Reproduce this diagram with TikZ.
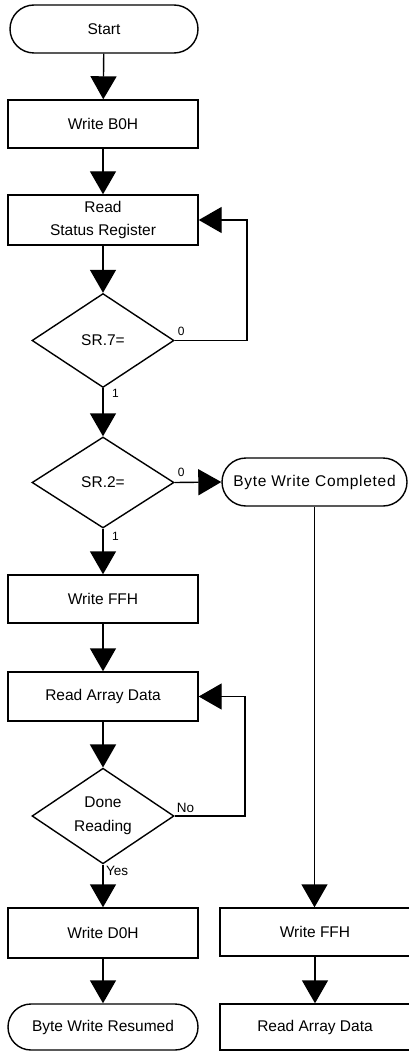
\documentclass[tikz,border=0pt]{standalone}
\usepackage{fontspec}
\setmainfont{Liberation Sans}
\usetikzlibrary{shapes.geometric,arrows.meta}
\begin{document}
\begin{tikzpicture}[x=1pt,y=-1pt,
  every node/.style={font=\fontsize{15.5}{23}\selectfont},
  proc/.style={draw, line width=1.4pt, minimum width=190pt, minimum height=48pt, inner sep=0pt, align=center},
  term/.style={draw, line width=1.4pt, rounded corners=24pt, minimum width=188pt, minimum height=48pt, inner sep=0pt},
  dec/.style={draw, diamond, line width=1.4pt, minimum width=142pt, minimum height=94pt, inner sep=0pt, align=center},
  flow/.style={line width=1.4pt, -{Triangle[length=23pt,width=26pt]}},
  lab/.style={font=\fontsize{12}{14}\selectfont, inner sep=0pt},
  yn/.style={font=\fontsize{13.5}{15}\selectfont, inner sep=0pt}
  ]
\useasboundingbox (0,0) rectangle (408,1051);
% left column
\node[term] (start) at (104,29) {Start};
\node[proc] (wb0) at (103,124) {Write B0H};
\node[proc, minimum height=50pt] (rsr) at (103,220) {Read\\Status Register};
\node[dec] (sr7) at (103,340.5) {SR.7=};
\node[dec, minimum height=91pt] (sr2) at (103,482.5) {SR.2=};
\node[proc] (wff) at (103,599) {Write FFH};
\node[proc, minimum height=49pt] (rad) at (103,696.5) {Read Array Data};
\node[dec, minimum height=93pt, font=\fontsize{15.5}{24}\selectfont] (done) at (103,816) {Done\\Reading};
\node[proc, minimum height=50pt] (wd0) at (103,933) {Write D0H};
\node[term, minimum width=190pt, minimum height=46pt, rounded corners=23pt] (bwr) at (103,1027) {Byte Write Resumed};
% right column
\node[term, minimum width=185pt, font=\fontsize{15.5}{23}\selectfont\addfontfeature{LetterSpace=4.5}] (bwc) at (314.5,482) {Byte Write Completed};
\node[proc] (wff2) at (315,932) {Write FFH};
\node[proc, minimum height=46pt] (rad2) at (315,1027) {Read Array Data};
% loop corners
\coordinate (l1) at (247,340.5);
\coordinate (l2) at (245,816);
% connectors
\draw[flow] (start) -- (wb0);
\draw[flow] (wb0) -- (rsr);
\draw[flow] (rsr) -- (sr7);
\draw[flow] (sr7.east) -- (l1) |- (rsr.east);
\draw[flow] (sr7) -- (sr2);
\draw[flow] (sr2.east) -- (bwc.west);
\draw[flow] (sr2) -- (wff);
\draw[flow] (wff) -- (rad);
\draw[flow] (rad) -- (done);
\draw[flow] (done.east) -- (l2) |- (rad.east);
\draw[flow] (done) -- (wd0);
\draw[flow] (wd0) -- (bwr);
\draw[flow] (bwc.south) -- (bwc.south |- wff2.north);
\draw[flow] (wff2) -- (rad2);
% labels
\node[lab, anchor=south west] (l0a) at ([shift={(3,-5)}]sr7.east) {0};
\node[lab, anchor=north west] (l1a) at ([shift={(9,1)}]sr7.south) {1};
\node[lab, anchor=south west] (l0b) at ([shift={(3,-5.5)}]sr2.east) {0};
\node[lab, anchor=north west] (l1b) at ([shift={(9,3)}]sr2.south) {1};
\node[yn, anchor=south west] (lno) at ([shift={(2,-3)}]done.east) {No};
\node[yn, anchor=north west] (lyes) at ([shift={(3,1)}]done.south) {Yes};
\end{tikzpicture}
\end{document}
